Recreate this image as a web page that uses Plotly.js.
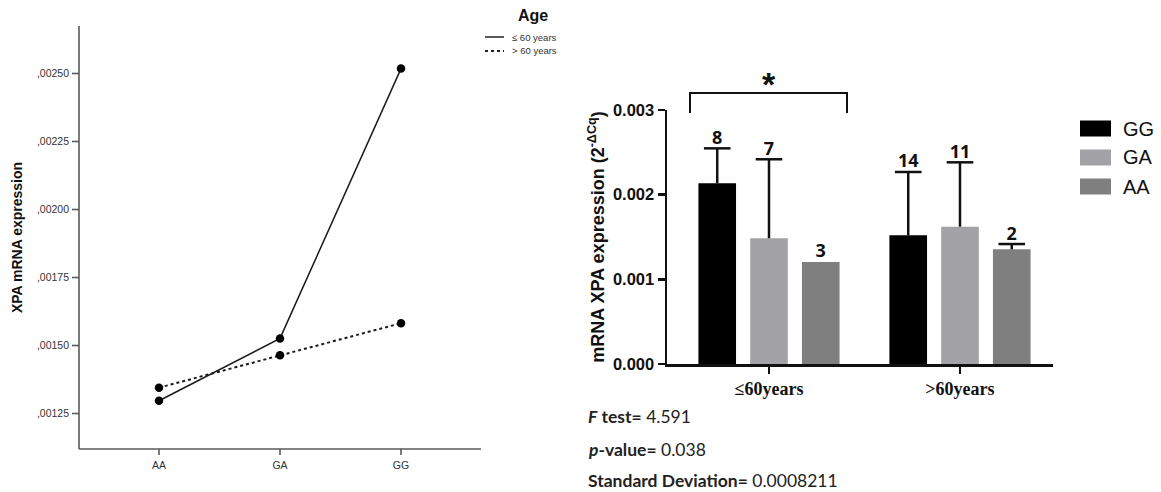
<!DOCTYPE html>
<html>
<head>
<meta charset="utf-8">
<script src="https://cdn.plot.ly/plotly-3.0.1.min.js"></script>
<style>html,body{margin:0;padding:0;background:#fff;}#chart{width:1161px;height:492px;}</style>
</head>
<body>
<div id="chart"></div>
<script>
// ---- Left chart data (SPSS profile plot) ----
const leftGenotypes = ['AA', 'GA', 'GG'];
const ageLabels = ['≤ 60 years', '> 60 years'];
const expLe60 = [0.001297, 0.001526, 0.002518];
const expGt60 = [0.001345, 0.001464, 0.001582];
const leftTickVals = [0.00125, 0.0015, 0.00175, 0.002, 0.00225, 0.0025];
const leftTickText = [',00125', ',00150', ',00175', ',00200', ',00225', ',00250'];

// ---- Right chart data (bar chart) ----
const ageCats = ['≤60years', '>60years'];
const genotypes = ['GG', 'GA', 'AA'];
const meanGG = [0.002134, 0.001520];
const meanGA = [0.001485, 0.001622];
const meanAA = [0.001205, 0.001354];
const sdGG = [0.000413, 0.000748];
const sdGA = [0.000933, 0.000760];
const sdAA = [null, 0.000063];
const nGG = [8, 14];
const nGA = [7, 11];
const nAA = [3, 2];
const barColors = ['#000000', '#a3a3a7', '#7f7f7f'];
const rightTickVals = [0, 0.001, 0.002, 0.003];
const rightTickText = ['0.000', '0.001', '0.002', '0.003'];

const W = 1161, H = 492;
const px = x => x / W;
const py = y => 1 - y / H;

const traces = [];
// left profile lines
traces.push({
  x: leftGenotypes, y: expLe60, xaxis: 'x', yaxis: 'y', type: 'scatter', mode: 'lines+markers',
  name: ageLabels[0], line: {color: '#1a1a1a', width: 1.5}, marker: {color: '#000', size: 8.5},
  showlegend: false, cliponaxis: false
});
traces.push({
  x: leftGenotypes, y: expGt60, xaxis: 'x', yaxis: 'y', type: 'scatter', mode: 'lines+markers',
  name: ageLabels[1], line: {color: '#1a1a1a', width: 2, dash: 'dot'}, marker: {color: '#000', size: 8.5},
  showlegend: false, cliponaxis: false
});

// right bars
const means = [meanGG, meanGA, meanAA];
const sds = [sdGG, sdGA, sdAA];
const ns = [nGG, nGA, nAA];
const barOffset = 0.271, barWidth = 0.197;
genotypes.forEach((g, i) => {
  const xs = ageCats.map((c, j) => j + (i - 1) * barOffset);
  traces.push({
    type: 'bar', x: xs, y: means[i], width: barWidth, xaxis: 'x2', yaxis: 'y2', name: g,
    marker: {color: barColors[i], line: {width: 0}}, showlegend: false
  });
});
// upper SD bars and n labels
genotypes.forEach((g, i) => {
  const xs = ageCats.map((c, j) => j + (i - 1) * barOffset);
  const sx = [], sy = [], cx = [], cy = [];
  xs.forEach((x, j) => {
    if (sds[i][j] == null) return;
    sx.push(x, x, null); sy.push(means[i][j], means[i][j] + sds[i][j], null);
    cx.push(x); cy.push(means[i][j] + sds[i][j]);
  });
  traces.push({type: 'scatter', mode: 'lines', x: sx, y: sy, xaxis: 'x2', yaxis: 'y2',
    line: {color: '#111', width: 2.5}, showlegend: false, hoverinfo: 'skip', cliponaxis: false});
  traces.push({type: 'scatter', mode: 'markers', x: cx, y: cy, xaxis: 'x2', yaxis: 'y2',
    marker: {symbol: 'line-ew-open', size: 19, color: '#111', line: {color: '#111', width: 2.5}},
    showlegend: false, hoverinfo: 'skip', cliponaxis: false});
  traces.push({
    type: 'scatter', mode: 'text', x: xs, y: means[i].map((m, j) => m + (sds[i][j] || 0)),
    text: ns[i].map(String), textposition: 'top center', xaxis: 'x2', yaxis: 'y2',
    textfont: {family: 'Open Sans, Arial', size: 18, color: '#111', weight: 'bold'},
    showlegend: false, cliponaxis: false, hoverinfo: 'skip'
  });
});

const shapes = [];
const annotations = [];

// left axes (lines and outward ticks tied to the axes)
const axGray = '#5a5a5a';
shapes.push({type: 'line', xref: 'x domain', yref: 'y domain', x0: 0, x1: 1, y0: 0, y1: 0, line: {color: axGray, width: 1.6}});
shapes.push({type: 'line', xref: 'x domain', yref: 'y domain', x0: 0, x1: 0, y0: 0, y1: 1, line: {color: axGray, width: 1.6}});
leftGenotypes.forEach((g, i) => {
  shapes.push({type: 'line', xref: 'x', yref: 'y domain', ysizemode: 'pixel', yanchor: 0, x0: i, x1: i, y0: 0, y1: -6,
    line: {color: axGray, width: 1.6}});
});
leftTickVals.forEach(v => {
  shapes.push({type: 'line', xref: 'x domain', yref: 'y', xsizemode: 'pixel', xanchor: 0, x0: -7, x1: 0, y0: v, y1: v,
    line: {color: axGray, width: 1.6}});
});

// left legend
annotations.push({xref: 'paper', yref: 'paper', x: px(533), y: py(15), text: '<b>Age</b>', showarrow: false,
  font: {family: 'Liberation Sans, Arial', size: 16, color: '#111'}, xanchor: 'center', yanchor: 'middle'});
shapes.push({type: 'line', xref: 'paper', yref: 'paper', x0: px(485), x1: px(504), y0: py(37), y1: py(37),
  line: {color: '#222', width: 1.5}});
shapes.push({type: 'line', xref: 'paper', yref: 'paper', x0: px(485), x1: px(504), y0: py(51), y1: py(51),
  line: {color: '#222', width: 2, dash: 'dot'}});
ageLabels.forEach((t, i) => {
  annotations.push({xref: 'paper', yref: 'paper', x: px(510), y: py(37 + i * 14), text: t, showarrow: false,
    font: {family: 'Liberation Sans, Arial', size: 9.5, color: '#333'}, xanchor: 'left', yanchor: 'middle'});
});

// right legend
genotypes.forEach((g, i) => {
  const yc = 128.5 + i * 29;
  shapes.push({type: 'rect', xref: 'paper', yref: 'paper', x0: px(1080), x1: px(1111), y0: py(yc - 8), y1: py(yc + 8),
    fillcolor: barColors[i], line: {width: 0}});
  annotations.push({xref: 'paper', yref: 'paper', x: px(1121), y: py(yc), text: g, showarrow: false,
    font: {family: 'Liberation Sans, Arial', size: 20, color: '#111'}, xanchor: 'left', yanchor: 'middle'});
});

// significance bracket
shapes.push({type: 'path', xref: 'paper', yref: 'paper',
  path: `M ${px(690)} ${py(113)} L ${px(690)} ${py(93)} L ${px(847)} ${py(93)} L ${px(847)} ${py(113)}`,
  line: {color: '#111', width: 2}});
annotations.push({xref: 'paper', yref: 'paper', x: px(769), y: py(84), text: '<b>*</b>', showarrow: false,
  font: {family: 'Liberation Sans, Arial', size: 34, color: '#111'}, xanchor: 'center', yanchor: 'middle'});

// statistics text
const statsLines = ['<b><i>F</i> test=</b> 4.591', '<b><i>p</i>-value=</b> 0.038', '<b>Standard Deviation=</b> 0.0008211'];
const statsY = [416, 449, 480];
statsLines.forEach((t, i) => {
  annotations.push({xref: 'paper', yref: 'paper', x: px(586), y: py(statsY[i]), text: t, showarrow: false,
    font: {family: 'Lato, Open Sans', size: 17.5, color: '#222'}, xanchor: 'left', yanchor: 'middle'});
});

const layout = {
  width: W, height: H,
  margin: {l: 0, r: 0, t: 0, b: 0},
  paper_bgcolor: '#fff', plot_bgcolor: 'rgba(0,0,0,0)',
  showlegend: false,
  xaxis: {
    domain: [px(79), px(481)], type: 'category', range: [-0.661, 2.661],
    showline: false, ticks: '', ticklabelstandoff: 8,
    showgrid: false, zeroline: false,
    tickfont: {family: 'Liberation Sans, Arial', size: 10.5, color: '#333'}
  },
  yaxis: {
    domain: [py(449), py(26)], range: [0.0011195, 0.0026746],
    tickvals: leftTickVals, ticktext: leftTickText,
    showline: false, ticks: '', ticklabelstandoff: 9,
    showgrid: false, zeroline: false,
    tickfont: {family: 'Liberation Sans, Arial', size: 10.5, color: '#333'},
    title: {text: '<b>XPA mRNA expression</b>', standoff: 10,
      font: {family: 'Liberation Sans, Arial', size: 14, color: '#111'}}
  },
  xaxis2: {
    domain: [px(667), px(1053)], range: [-0.534, 1.487], anchor: 'y2',
    tickvals: ageCats.map((c, j) => j), ticktext: ageCats,
    showline: true, linecolor: '#111', linewidth: 2.5,
    ticks: 'outside', ticklen: 7, tickwidth: 2.5, tickcolor: '#111',
    showgrid: false, zeroline: false,
    tickfont: {family: 'Liberation Serif, Times New Roman', size: 18, color: '#111', weight: 'bold'}
  },
  yaxis2: {
    domain: [py(364), py(110)], range: [0, 0.003], anchor: 'x2',
    tickvals: rightTickVals, ticktext: rightTickText,
    showline: true, linecolor: '#111', linewidth: 2.5,
    ticks: 'outside', ticklen: 7, tickwidth: 2.5, tickcolor: '#111',
    showgrid: false, zeroline: false,
    tickfont: {family: 'Liberation Sans, Arial', size: 16.5, color: '#111', weight: 'bold'},
    title: {text: '<b>mRNA XPA expression (2<sup>-ΔCq</sup>)</b>', standoff: 4,
      font: {family: 'Liberation Sans, Arial', size: 18, color: '#111'}}
  },
  shapes: shapes,
  annotations: annotations
};

Plotly.newPlot('chart', traces, layout, {displayModeBar: false, staticPlot: true});
</script>
</body>
</html>
